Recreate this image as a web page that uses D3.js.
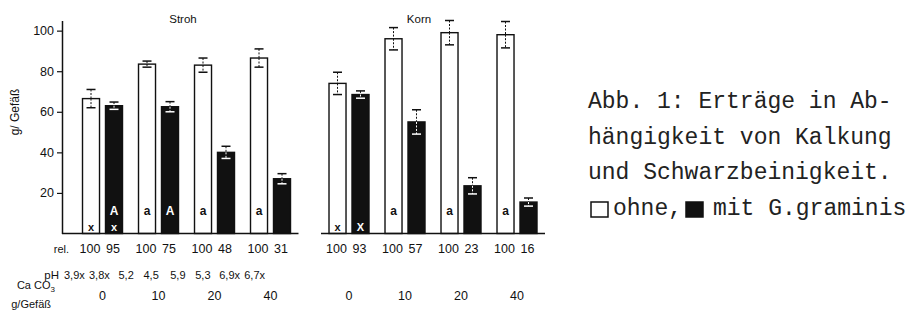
<!DOCTYPE html>
<html>
<head>
<meta charset="utf-8">
<script src="https://cdn.jsdelivr.net/npm/d3@7"></script>
<style>
  body { margin: 0; background: #fff; }
  svg { display: block; }
  text { font-family: "Liberation Sans", Arial, sans-serif; fill: #111; }
  .caption text { font-family: "Liberation Mono", "DejaVu Sans Mono", monospace; fill: #222; }
</style>
</head>
<body>
<svg id="chart" width="913" height="322"></svg>
<script>
// Kalkung (CaCO3 g/Gefaess)
var kalk = ["0", "10", "20", "40"];

// Stroh, g/Gefaess
var strohOhne = [66.5, 83.5, 83, 86.5];
var strohOhneErr = [4.5, 1.5, 3.5, 4.5];
var strohMit = [63, 62.5, 40, 27];
var strohMitErr = [1.8, 2.5, 3, 2.5];

// Korn, g/Gefaess
var kornOhne = [74, 96, 99, 98];
var kornOhneErr = [5.5, 5.5, 6, 6.5];
var kornMit = [68.5, 55, 23.5, 15.5];
var kornMitErr = [1.8, 6, 4, 2];

// relative Ertraege
var strohRel = ["100", "95", "100", "75", "100", "48", "100", "31"];
var kornRel = ["100", "93", "100", "57", "100", "23", "100", "16"];
var strohPH = [["3,9x", "3,8x"], ["5,2", "4,5"], ["5,9", "5,3"], ["6,9x", "6,7x"]];

// Buchstaben in den Saeulen
var strohTop = [["", "A"], ["a", "A"], ["a", ""], ["a", ""]];
var strohBottom = [["x", "x"], ["", ""], ["", ""], ["", ""]];
var kornTop = [["", ""], ["a", ""], ["a", ""], ["a", ""]];
var kornBottom = [["x", "X"], ["", ""], ["", ""], ["", ""]];

var yTicks = [20, 40, 60, 80, 100];
var captionLines = ["Abb. 1: Erträge in Ab-", "hängigkeit von Kalkung", "und Schwarzbeinigkeit."];
var legendKeys = ["ohne", "mit"];
var legendLabels = ["ohne,", "mit G.graminis"];

var svg = d3.select("#chart");

var y = d3.scaleLinear().domain([0, 105]).range([233.5, 20.5]);

var sub = d3.scaleBand().domain(legendKeys).range([0, 40]).paddingInner(0.26).paddingOuter(0);

function panel(opts) {
  var x = d3.scaleBand().domain(kalk).range(opts.range).paddingInner(0.286).paddingOuter(0.143);
  var g = svg.append("g");

  var rows = kalk.map(function(k, i) {
    return [
      {k: k, key: "ohne", v: opts.ohne[i], e: opts.ohneErr[i], top: opts.top[i][0], bottom: opts.bottom[i][0]},
      {k: k, key: "mit", v: opts.mit[i], e: opts.mitErr[i], top: opts.top[i][1], bottom: opts.bottom[i][1]}
    ];
  });
  var bars = d3.merge(rows);

  function cx(d) { return x(d.k) + sub(d.key) + sub.bandwidth() / 2; }

  g.selectAll("rect.bar")
    .data(bars)
    .enter().append("rect")
      .attr("class", "bar")
      .attr("x", function(d) { return x(d.k) + sub(d.key); })
      .attr("y", function(d) { return y(d.v); })
      .attr("width", sub.bandwidth())
      .attr("height", function(d) { return y(0) - y(d.v); })
      .attr("fill", function(d) { return d.key == "ohne" ? "#fff" : "#111"; })
      .attr("stroke", "#111")
      .attr("stroke-width", 1.4);

  // error bars
  var err = g.selectAll("g.err").data(bars).enter().append("g").attr("class", "err");
  err.append("line")
    .attr("x1", cx).attr("x2", cx)
    .attr("y1", function(d) { return y(d.v + d.e); })
    .attr("y2", function(d) { return y(d.v); })
    .attr("stroke", "#111").attr("stroke-width", 1)
    .attr("stroke-dasharray", "2,1.5");
  err.append("line")
    .attr("x1", cx).attr("x2", cx)
    .attr("y1", function(d) { return y(d.v); })
    .attr("y2", function(d) { return y(d.v - d.e); })
    .attr("stroke", function(d) { return d.key == "ohne" ? "#111" : "#fff"; })
    .attr("stroke-width", 1)
    .attr("stroke-dasharray", "2,1.5");
  err.append("line")
    .attr("x1", function(d) { return cx(d) - 4.5; })
    .attr("x2", function(d) { return cx(d) + 4.5; })
    .attr("y1", function(d) { return y(d.v + d.e); })
    .attr("y2", function(d) { return y(d.v + d.e); })
    .attr("stroke", "#111").attr("stroke-width", 1.5);
  err.append("line")
    .attr("x1", function(d) { return cx(d) - 4.5; })
    .attr("x2", function(d) { return cx(d) + 4.5; })
    .attr("y1", function(d) { return y(d.v - d.e); })
    .attr("y2", function(d) { return y(d.v - d.e); })
    .attr("stroke", function(d) { return d.key == "ohne" ? "#111" : "#fff"; })
    .attr("stroke-width", 1.5);

  // letters in the bars
  g.selectAll("text.top")
    .data(bars.filter(function(d) { return d.top; }))
    .enter().append("text")
      .attr("x", cx).attr("y", 215)
      .attr("text-anchor", "middle")
      .style("font-size", "12px").style("font-weight", "bold")
      .style("fill", function(d) { return d.key == "ohne" ? "#111" : "#fff"; })
      .text(function(d) { return d.top; });
  g.selectAll("text.bottom")
    .data(bars.filter(function(d) { return d.bottom; }))
    .enter().append("text")
      .attr("x", cx).attr("y", 231)
      .attr("text-anchor", "middle")
      .style("font-size", "11px").style("font-weight", "bold")
      .style("fill", function(d) { return d.key == "ohne" ? "#111" : "#fff"; })
      .text(function(d) { return d.bottom; });

  // baseline
  g.append("line")
    .attr("x1", opts.base0).attr("x2", opts.range[1])
    .attr("y1", y(0)).attr("y2", y(0))
    .attr("stroke", "#111").attr("stroke-width", 1.5);

  // title
  g.append("text")
    .attr("x", opts.titleX).attr("y", 23)
    .attr("text-anchor", "middle")
    .style("font-size", "11.5px")
    .text(opts.title);

  // rel. row
  g.selectAll("text.rel")
    .data(bars)
    .enter().append("text")
      .attr("x", function(d, i) { return cx(d) - 1; })
      .attr("y", 253)
      .attr("text-anchor", "middle")
      .style("font-size", "12.5px")
      .text(function(d, i) { return opts.rel[i]; });

  // CaCO3 row
  g.selectAll("text.kalk")
    .data(kalk)
    .enter().append("text")
      .attr("x", function(d) { return x(d) + 20; })
      .attr("y", 300)
      .attr("text-anchor", "middle")
      .style("font-size", "12.5px")
      .text(function(d) { return d; });

  return x;
}

panel({range: [74.5, 298.5], base0: 62, title: "Stroh", titleX: 183,
  ohne: strohOhne, ohneErr: strohOhneErr, mit: strohMit, mitErr: strohMitErr,
  top: strohTop, bottom: strohBottom, rel: strohRel});
panel({range: [321, 545], base0: 321, title: "Korn", titleX: 419,
  ohne: kornOhne, ohneErr: kornOhneErr, mit: kornMit, mitErr: kornMitErr,
  top: kornTop, bottom: kornBottom, rel: kornRel});

// y axis
var yAxis = svg.append("g")
  .attr("transform", "translate(62,0)")
  .call(d3.axisLeft(y).tickValues(yTicks).tickSize(5).tickSizeOuter(0).tickPadding(3));
yAxis.select(".domain").attr("stroke", "#111").attr("stroke-width", 1.5);
yAxis.selectAll(".tick line").attr("stroke", "#111").attr("stroke-width", 1.2);
yAxis.selectAll(".tick text")
  .style("font-family", "'Liberation Sans', Arial, sans-serif")
  .style("font-size", "12.5px").attr("fill", "#111");

svg.append("text")
  .attr("transform", "translate(19,112) rotate(-90)")
  .attr("text-anchor", "middle")
  .style("font-size", "12px")
  .text("g/ Gefäß");

// row labels
svg.append("text").attr("x", 69).attr("y", 253).attr("text-anchor", "end")
  .style("font-size", "11px").text("rel.");
svg.append("text").attr("x", 59).attr("y", 279).attr("text-anchor", "end")
  .style("font-size", "11.5px").text("pH");
var ca = svg.append("text").attr("x", 55).attr("y", 289).attr("text-anchor", "end")
  .style("font-size", "11px");
ca.append("tspan").text("Ca CO");
ca.append("tspan").attr("dy", 3).style("font-size", "8px").text("3");
svg.append("text").attr("x", 51).attr("y", 308).attr("text-anchor", "end")
  .style("font-size", "11px").text("g/Gefäß");

// pH row (sits a bit left of the bars in the original)
var phGroup = d3.scaleBand().domain(kalk).range([61, 268]);
var phSide = [-12.5, 12.5];
strohPH.forEach(function(pair, i) {
  svg.selectAll(null)
    .data(pair)
    .enter().append("text")
      .attr("x", function(d, j) { return phGroup(kalk[i]) + phGroup.bandwidth() / 2 + phSide[j]; })
      .attr("y", 279)
      .attr("text-anchor", "middle")
      .style("font-size", "11px")
      .text(function(d) { return d; });
});

// caption
var cap = svg.append("g").attr("class", "caption");
cap.selectAll("text.line")
  .data(captionLines)
  .enter().append("text")
    .attr("x", 588)
    .attr("y", function(d, i) { return 108 + i * 35.5; })
    .style("font-size", "23px")
    .text(function(d) { return d; });

// legend line
var legX = [591, 686];
var legTextX = [613, 713];
cap.selectAll("rect.leg")
  .data(legendKeys)
  .enter().append("rect")
    .attr("x", function(d, i) { return legX[i]; })
    .attr("y", 202)
    .attr("width", 17).attr("height", 15)
    .attr("fill", function(d) { return d == "ohne" ? "#fff" : "#111"; })
    .attr("stroke", "#111").attr("stroke-width", 1.5);
cap.selectAll("text.leg")
  .data(legendLabels)
  .enter().append("text")
    .attr("x", function(d, i) { return legTextX[i]; })
    .attr("y", 108 + 3 * 35.5)
    .style("font-size", "23px")
    .text(function(d) { return d; });
</script>
</body>
</html>
